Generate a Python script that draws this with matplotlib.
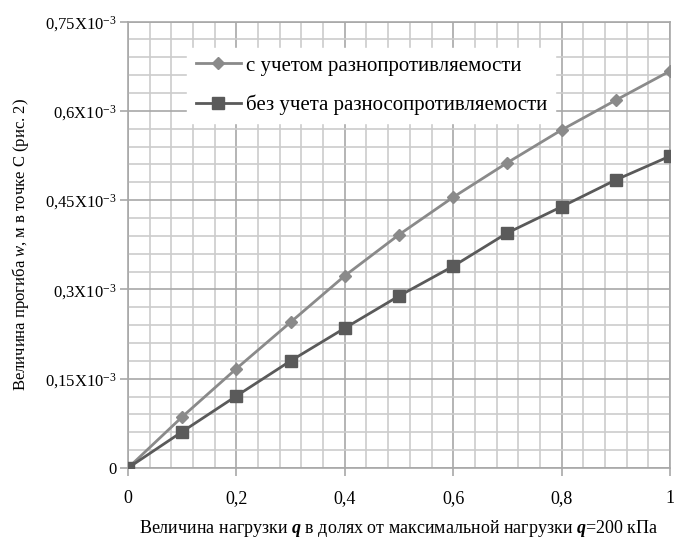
import numpy as np
import matplotlib.pyplot as plt
from matplotlib.ticker import MultipleLocator, FixedLocator, FixedFormatter

plt.rcParams['font.family'] = 'Liberation Serif'
plt.rcParams['mathtext.fontset'] = 'custom'
plt.rcParams['mathtext.rm'] = 'Liberation Serif'
plt.rcParams['mathtext.it'] = 'Liberation Serif:italic'
plt.rcParams['mathtext.bf'] = 'Liberation Serif:bold'
plt.rcParams['mathtext.bfit'] = 'Liberation Serif:italic:bold'

# load fraction of q max
q = [0, 0.1, 0.2, 0.3, 0.4, 0.5, 0.6, 0.7, 0.8, 0.9, 1.0]
# deflection, x1e-3 m
w_with = [0, 0.086, 0.167, 0.245, 0.323, 0.392, 0.455, 0.513, 0.568, 0.618, 0.667]
w_without = [0, 0.061, 0.121, 0.180, 0.235, 0.289, 0.339, 0.395, 0.439, 0.484, 0.524]

label_with = 'с учетом разнопротивляемости'
label_without = 'без учета разносопротивляемости'

x_ticks = [0, 0.2, 0.4, 0.6, 0.8, 1.0]
x_ticklabels = ['0', '0,2', '0,4', '0,6', '0,8', '1']
y_ticks = [0, 0.15e-3, 0.3e-3, 0.45e-3, 0.6e-3, 0.75e-3]
y_ticklabels = ['0'] + [s + 'X10$^{\\mathregular{-3}}$' for s in ['0,15', '0,3', '0,45', '0,6', '0,75']]

fig = plt.figure(figsize=(6.74, 5.41), dpi=100)
ax = fig.add_axes([0.19, 0.135, 0.804, 0.825])

ax.plot(q, np.array(w_with) * 1e-3, color='#8a8a8a', lw=2, marker='D', ms=6,
        label=label_with, zorder=3)
ax.plot(q, np.array(w_without) * 1e-3, color='#5a5a5a', lw=2, marker='s', ms=9,
        label=label_without, zorder=3)

ax.set_xlim(0, 1)
ax.set_ylim(0, 0.75e-3)
ax.xaxis.set_major_locator(FixedLocator(x_ticks))
ax.xaxis.set_major_formatter(FixedFormatter(x_ticklabels))
ax.yaxis.set_major_locator(FixedLocator(y_ticks))
ax.yaxis.set_major_formatter(FixedFormatter(y_ticklabels))
ax.xaxis.set_minor_locator(MultipleLocator(0.04))
ax.yaxis.set_minor_locator(MultipleLocator(0.03e-3))

ax.grid(which='major', color='#a8a8a8', lw=1.2)
ax.grid(which='minor', color='#cccccc', lw=1.2)
ax.set_axisbelow(True)
for s in ax.spines.values():
    s.set_color('#a8a8a8')
    s.set_linewidth(1.2)
ax.tick_params(which='major', length=6, width=1.2, color='#a8a8a8', labelsize=13)
ax.tick_params(which='minor', length=0)
ax.tick_params(axis='x', pad=10)
ax.tick_params(axis='y', labelsize=12, pad=2)

ax.set_xlabel('Величина нагрузки $\\mathbfit{q}$ в долях от максимальной нагрузки $\\mathbfit{q}$=200 кПа',
              fontsize=13, labelpad=8)
ax.set_ylabel('Величина прогиба $\\mathit{w}$, м в точке С (рис. 2)', fontsize=12, labelpad=10)

leg = ax.legend(loc='upper left', bbox_to_anchor=(0.09, 0.965), fontsize=15,
                frameon=True, framealpha=1, facecolor='white', edgecolor='white',
                fancybox=False, labelspacing=0.9, handlelength=2.2, handletextpad=0.2,
                borderpad=0.4)

fig.savefig('out.png', dpi=100)
